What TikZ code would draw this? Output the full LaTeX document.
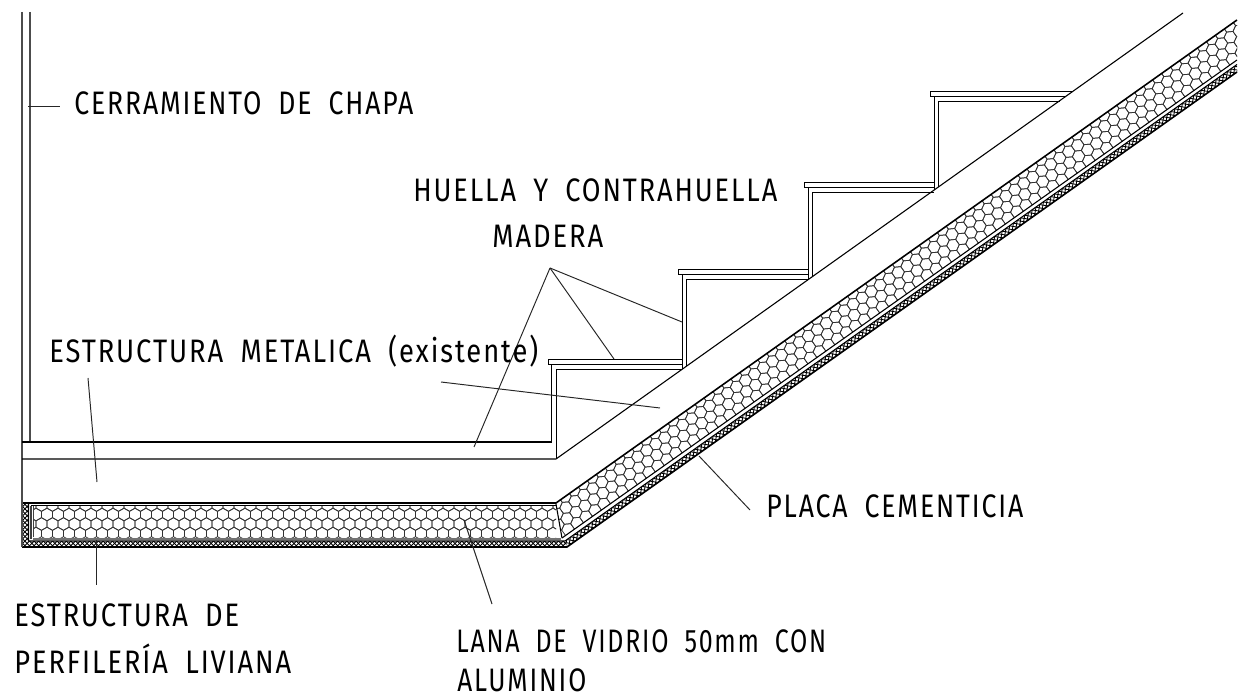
\documentclass[tikz,border=0pt]{standalone}
\usepackage{graphicx}
\usepackage{fontspec}
\setmainfont{Fira Sans}[LetterSpace=7,WordSpace=1.9]
\newcommand\fitw[2]{\setbox0=\hbox{#2}\pgfmathsetmacro\fac{#1*0.56906/\the\wd0}\scalebox{\fac}[1]{\box0}}
\tikzset{
  ln/.style={line width=0.62pt,line cap=butt,line join=miter},
  stair/.style={line width=0.5pt,line cap=butt,line join=miter},
  lead/.style={line width=0.55pt,black!85},
  hexl/.style={line width=0.42pt,black!80},
  hatchl/.style={line width=0.5pt,black},
  lab/.style={inner sep=0pt,anchor=base west,font=\fontsize{18.5}{18.5}\selectfont,text=black}
}
\newcommand\hexfield[2]{%
  \foreach \r in {0,...,#2}{%
    \pgfmathsetmacro\off{mod(\r,2)*5.5}%
    \foreach \c in {-1,...,#1}{%
      \pgfmathsetmacro\cx{\c*11+\off}\pgfmathsetmacro\cy{\r*9.5}%
      \draw[hexl] (\cx,\cy-6.35) -- (\cx+5.5,\cy-3.175) -- (\cx+5.5,\cy+3.175) -- (\cx,\cy+6.35) -- (\cx-5.5,\cy+3.175) -- (\cx-5.5,\cy-3.175) -- cycle;
    }%
  }%
}
\begin{document}
\begin{tikzpicture}[x=0.02cm,y=-0.02cm]
\useasboundingbox (0,0) rectangle (1252,699);
% hex, horizontal
\begin{scope}
\clip (33.5,505.5) rectangle (556,537.5);
\begin{scope}[shift={(41.5,505)}]\hexfield{47}{3}\end{scope}
\end{scope}
% hex, inclined
\begin{scope}
\clip (556,503) -- (1237,20) -- (1237,60) -- (562,538) -- cycle;
\begin{scope}[shift={(556,503)},rotate=35.3]\hexfield{77}{3}\end{scope}
\end{scope}
% hatch band, horizontal part
\begin{scope}
\clip (22,503) -- (28.5,503) -- (28.5,541) -- (565,541) -- (567,547) -- (22,547) -- cycle;
\foreach \i in {-40,-35.4,...,600}{
  \draw[hatchl] (\i,490) -- ++(70,70);
  \draw[hatchl] (\i,560) -- ++(70,-70);
}
\end{scope}
% hatch band, inclined part
\begin{scope}
\clip (565,541) -- (1237,64.5) -- (1237,72) -- (567,547) -- cycle;
\begin{scope}[shift={(567,547)},rotate=35.3]
\foreach \i in {-20,-15.4,...,860}{
  \draw[hatchl] (\i,-12) -- ++(16,16);
  \draw[hatchl] (\i,4) -- ++(16,-16);
}
\end{scope}
\end{scope}
% outlines of the slab
\draw[ln,line width=0.9pt] (22,503) -- (556,503) -- (1237,20);
\draw[ln,line width=0.5pt] (31,505.5) -- (556,505.5);
\draw[ln,black!75] (31,505.5) -- (31,539);
\draw[ln,black!75] (33.5,505.5) -- (33.5,537);
\draw[ln,black!55,line width=1.1pt] (33,538.7) -- (561,538.7);
\draw[ln] (562,538) -- (1237,60);
\draw[ln] (28.5,503) -- (28.5,541) -- (565,541) -- (1237,64.5);
\draw[ln,line width=0.9pt] (22,547) -- (567,547) -- (1237,72);
\draw[ln,black!70] (22,12) -- (22,547);
\draw[ln] (556,504) -- (562,538);
% upper structure
\draw[ln,black!70] (30,12) -- (30,442);
\draw[ln] (22,442) -- (552,442);
\draw[ln] (22,459) -- (556,459) -- (1183,13);
% steps
\draw[stair] (551,442) -- (551,364);
\draw[stair] (556,459) -- (556,369) -- (682,369);
\draw[stair] (548,364) -- (548,359) -- (682,359);
\draw[stair] (548,364) -- (682,364);
\draw[stair] (682,369) -- (682,274);
\draw[stair] (686,366) -- (686,279) -- (808,279);
\draw[stair] (678,274) -- (678,269) -- (808,269);
\draw[stair] (678,274) -- (808,274);
\draw[stair] (808,280) -- (808,187);
\draw[stair] (812,277) -- (812,192) -- (934,192);
\draw[stair] (804,187) -- (804,182) -- (934,182);
\draw[stair] (804,187) -- (934,187);
\draw[stair] (934,190) -- (934,96);
\draw[stair] (938,187) -- (938,101) -- (1060,101);
\draw[stair] (930,96) -- (930,91) -- (1072,91);
\draw[stair] (930,96) -- (1065,96);
% leaders
\coordinate (c1) at (28,106); \coordinate (c2) at (60,106);
\coordinate (m) at (550,268); \coordinate (m1) at (474,447);
\coordinate (m2) at (614,359); \coordinate (m3) at (682,322);
\coordinate (e1) at (441,382); \coordinate (e2) at (660,408);
\coordinate (f1) at (88,378); \coordinate (f2) at (97,482);
\coordinate (p1) at (96,540); \coordinate (p2) at (96,585);
\coordinate (l1) at (464,520); \coordinate (l2) at (492,604);
\coordinate (k1) at (699,456); \coordinate (k2) at (750,510);
\draw[lead] (c1) -- (c2);
\draw[lead] (m) -- (m1); \draw[lead] (m) -- (m2); \draw[lead] (m) -- (m3);
\draw[lead] (e1) -- (e2);
\draw[lead] (f1) -- (f2);
\draw[lead] (p1) -- (p2);
\draw[lead] (l1) -- (l2);
\draw[lead] (k1) -- (k2);
% labels
\node[lab] (t1) at (74,115) {\fitw{339}{CERRAMIENTO DE CHAPA}};
\node[lab] (t2) at (413,202) {\fitw{364}{HUELLA Y CONTRAHUELLA}};
\node[lab] (t3) at (492,248) {\fitw{111}{MADERA}};
\node[lab] (t4) at (49,363) {\fitw{489}{ESTRUCTURA METALICA (existente)}};
\node[lab] (t5) at (766,518) {\fitw{257}{PLACA CEMENTICIA}};
\node[lab] (t6) at (14,626) {\fitw{225}{ESTRUCTURA DE}};
\node[lab] (t7) at (14,673) {\fitw{277}{PERFILERÍA LIVIANA}};
\node[lab] (t8) at (456,652) {\fitw{370}{LANA DE VIDRIO 50mm CON}};
\node[lab] (t9) at (457,691) {\fitw{129}{ALUMINIO}};
\end{tikzpicture}
\end{document}
